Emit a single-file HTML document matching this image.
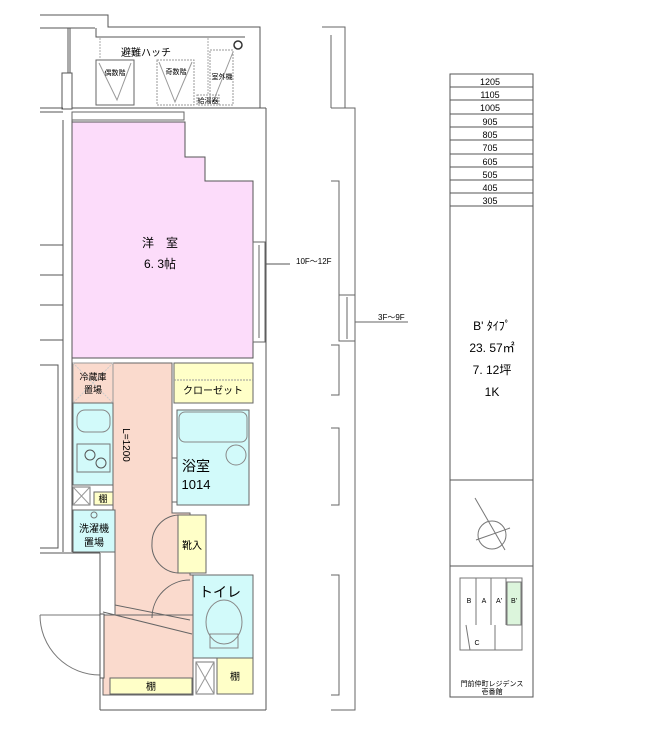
<!DOCTYPE html>
<html><head><meta charset="utf-8"><style>
html,body{margin:0;padding:0;background:#fff}
svg{display:block}
text{font-family:"Liberation Sans","Noto Sans CJK JP",sans-serif;fill:#000}
</style></head><body>
<svg width="650" height="737" viewBox="0 0 650 737" xmlns="http://www.w3.org/2000/svg">
<g stroke="#555" stroke-width="1" fill="none">
<polyline points="40,15 108,15 108,27 260,27 260,108"/>
<line x1="40" y1="28" x2="95" y2="28"/>
<line x1="68" y1="28" x2="68" y2="73"/>
<line x1="70" y1="28" x2="70" y2="73"/>
<polyline points="96,28 96,37 245,37"/>
<line x1="40" y1="108" x2="63" y2="108"/>
<line x1="40" y1="112" x2="63" y2="112"/>
<rect x="62" y="73" width="10" height="36"/>
<line x1="63" y1="120" x2="63" y2="552"/>
<line x1="72" y1="120" x2="72" y2="552"/>
<line x1="40" y1="245" x2="63" y2="245"/>
<line x1="40" y1="275" x2="63" y2="275"/>
<line x1="40" y1="305" x2="63" y2="305"/>
<line x1="40" y1="340" x2="63" y2="340"/>
<polyline points="40,365 58,365 58,548 40,548"/>
<line x1="40" y1="553" x2="100" y2="553"/>
<line x1="100" y1="553" x2="100" y2="615"/>
<line x1="72" y1="108" x2="185" y2="108"/>
<line x1="185" y1="108" x2="266" y2="108"/>
<rect x="96" y="60" width="38" height="45" stroke="#666"/>
<polyline points="99,63 117,100 131,63" stroke="#999"/>
<rect x="157" y="60" width="37" height="45" stroke="#999" stroke-dasharray="2,1"/>
<polyline points="159,62 175,102 192,62" stroke="#999"/>
<rect x="210" y="50" width="23" height="55" stroke="#999" stroke-dasharray="2,1"/>
<line x1="233" y1="52" x2="213" y2="102" stroke="#999"/>
<rect x="197" y="95" width="22" height="10" stroke="#999" stroke-dasharray="2,1"/>
<circle cx="238" cy="45" r="4" stroke="#333" stroke-width="1.5"/>
<line x1="100" y1="38" x2="100" y2="60" stroke="#aaa" stroke-dasharray="2,1"/>
<line x1="208" y1="38" x2="208" y2="95" stroke="#aaa" stroke-dasharray="2,1"/>
<line x1="266" y1="108" x2="266" y2="710"/>
<line x1="100" y1="710" x2="266" y2="710"/>
<line x1="100" y1="615" x2="100" y2="710"/>
</g>
<rect x="72" y="112" width="112" height="8" fill="#fff" stroke="#666"/>
<polygon points="72,122 185,122 185,157 205,157 205,181 253,181 253,358 72,358" fill="#fcdcfa" stroke="#555"/>
<rect x="253" y="242" width="12" height="100" fill="#fff" stroke="#666"/>
<line x1="259" y1="245" x2="259" y2="338" stroke="#666"/>
<line x1="266" y1="264" x2="290" y2="264" stroke="#555"/>
<text x="160" y="247" font-size="12" text-anchor="middle">洋　室</text>
<text x="160" y="268" font-size="12" text-anchor="middle">6. 3帖</text>
<polygon points="113,363 172,363 172,513 190,513 190,575 193,575 193,678 192,678 110,678 103,678 103,615 115,615 115,552 113,552" fill="#fadacd" stroke="#666"/>
<rect x="103" y="615" width="90" height="80" fill="#fadacd" stroke="#666"/>
<line x1="115" y1="605" x2="190" y2="620" stroke="#666"/>
<line x1="103" y1="612" x2="192" y2="634" stroke="#666"/>
<path d="M190,580 A38,38 0 0 0 152,618" fill="none" stroke="#666"/>
<path d="M178,515 A28,28 0 0 0 152,543 A28,28 0 0 0 178,573" fill="none" stroke="#666"/>
<line x1="40" y1="615" x2="100" y2="615" stroke="#777"/>
<path d="M40,615 A60,60 0 0 0 100,675" fill="none" stroke="#777"/>
<rect x="100" y="614" width="4" height="64" fill="#fff" stroke="#555"/>
<rect x="174" y="363" width="79" height="40" fill="#ffffc8" stroke="#666"/>
<line x1="174" y1="380" x2="253" y2="380" stroke="#999" stroke-dasharray="2,1"/>
<text x="213" y="394" font-size="10" text-anchor="middle">クローゼット</text>
<rect x="177" y="410" width="72" height="95" fill="#d2fafa" stroke="#666"/>
<rect x="179" y="412" width="68" height="30" rx="6" fill="none" stroke="#888"/>
<circle cx="236" cy="455" r="10" fill="none" stroke="#888"/>
<rect x="172" y="458" width="5" height="44" fill="#fff" stroke="#666"/>
<text x="196" y="471" font-size="14" text-anchor="middle">浴室</text>
<text x="196" y="489" font-size="13" text-anchor="middle">1014</text>
<rect x="178" y="515" width="28" height="58" fill="#ffffc8" stroke="#666"/>
<text x="192" y="549" font-size="10" text-anchor="middle">靴入</text>
<rect x="193" y="575" width="60" height="83" fill="#d2fafa" stroke="#666"/>
<ellipse cx="224" cy="622" rx="18" ry="22" fill="none" stroke="#888"/>
<rect x="210" y="634" width="28" height="14" fill="none" stroke="#888"/>
<text x="220" y="597" font-size="14" text-anchor="middle">トイレ</text>
<rect x="217" y="658" width="36" height="36" fill="#ffffc8" stroke="#666"/>
<text x="235" y="680" font-size="10" text-anchor="middle">棚</text>
<rect x="196" y="662" width="18" height="32" fill="#fff" stroke="#777"/>
<path d="M196,662 L214,694 M214,662 L196,694" stroke="#999"/>
<rect x="110" y="678" width="82" height="16" fill="#ffffc8" stroke="#666"/>
<text x="151" y="690" font-size="10" text-anchor="middle">棚</text>
<rect x="73" y="363" width="40" height="40" fill="#fadacd" stroke="#999"/>
<path d="M73,363 L113,403 M113,363 L73,403" stroke="#ccc" stroke-dasharray="2,1"/>
<text x="93" y="380" font-size="9" text-anchor="middle">冷蔵庫</text>
<text x="93" y="393" font-size="9" text-anchor="middle">置場</text>
<rect x="73" y="403" width="40" height="82" fill="#d2fafa" stroke="#666"/>
<rect x="77" y="410" width="33" height="22" rx="8" fill="none" stroke="#888"/>
<rect x="77" y="444" width="33" height="28" fill="none" stroke="#777"/>
<circle cx="90" cy="455" r="5" fill="none" stroke="#555"/>
<circle cx="101" cy="463" r="5" fill="none" stroke="#555"/>
<rect x="73" y="487" width="17" height="18" fill="#fff" stroke="#777"/>
<path d="M73,487 L90,505 M90,487 L73,505" stroke="#999"/>
<rect x="94" y="492" width="19" height="13" fill="#ffffc8" stroke="#666"/>
<text x="103" y="502" font-size="9" text-anchor="middle">棚</text>
<rect x="73" y="510" width="42" height="42" fill="#d2fafa" stroke="#666"/>
<circle cx="94" cy="515" r="3" fill="none" stroke="#777"/>
<text x="94" y="532" font-size="10" text-anchor="middle">洗濯機</text>
<text x="94" y="546" font-size="10" text-anchor="middle">置場</text>
<text x="123" y="445" font-size="10" text-anchor="middle" transform="rotate(90 123 445)">L=1200</text>
<text x="146" y="56" font-size="10" text-anchor="middle">避難ハッチ</text>
<text x="115" y="75" font-size="7" text-anchor="middle">偶数階</text>
<text x="176" y="74" font-size="7" text-anchor="middle">奇数階</text>
<text x="222" y="79" font-size="7" text-anchor="middle">室外機</text>
<text x="208" y="103" font-size="7" text-anchor="middle">給湯器</text>
<g stroke="#666" fill="none">
<polyline points="322,27 345,27 345,108"/>
<line x1="331" y1="35" x2="331" y2="108"/>
<polyline points="331,108 355,108 355,710 331,710"/>
<polyline points="331,181 339,181 339,297"/>
<polyline points="331,345 339,345 339,395 331,395"/>
<polyline points="331,428 339,428 339,505 331,505"/>
<polyline points="331,575 339,575 339,695 331,695"/>
<rect x="339" y="295" width="16" height="46" fill="#fff"/>
<line x1="347" y1="297" x2="347" y2="339"/>
<line x1="355" y1="322" x2="408" y2="322"/>
</g>
<text x="296" y="264" font-size="8">10F～12F</text>
<text x="378" y="320" font-size="8">3F～9F</text>
<g stroke="#555" fill="none">
<rect x="450" y="74" width="83" height="623"/>
<line x1="450" y1="480" x2="533" y2="480"/>
<line x1="450" y1="566" x2="533" y2="566"/>
</g>
<g font-size="9" text-anchor="middle">
<g stroke="#555">
<line x1="450" y1="87" x2="533" y2="87"/><line x1="450" y1="100" x2="533" y2="100"/>
<line x1="450" y1="114" x2="533" y2="114"/><line x1="450" y1="127" x2="533" y2="127"/>
<line x1="450" y1="140" x2="533" y2="140"/><line x1="450" y1="154" x2="533" y2="154"/>
<line x1="450" y1="167" x2="533" y2="167"/><line x1="450" y1="180" x2="533" y2="180"/>
<line x1="450" y1="193" x2="533" y2="193"/><line x1="450" y1="206" x2="533" y2="206"/>
</g>
<text x="490" y="85">1205</text><text x="490" y="98">1105</text><text x="490" y="111">1005</text>
<text x="490" y="125">905</text><text x="490" y="138">805</text><text x="490" y="151">705</text>
<text x="490" y="165">605</text><text x="490" y="178">505</text><text x="490" y="191">405</text>
<text x="490" y="204">305</text>
</g>
<g font-size="12" text-anchor="middle">
<text x="492" y="330">B' ﾀｲﾌﾟ</text>
<text x="492" y="352">23. 57㎡</text>
<text x="492" y="374">7. 12坪</text>
<text x="492" y="396">1K</text>
</g>
<g stroke="#777" fill="none">
<circle cx="492" cy="535" r="14"/>
<line x1="475" y1="498" x2="505" y2="550"/>
<line x1="476" y1="540" x2="510" y2="528"/>
</g>
<g stroke="#777" fill="none">
<rect x="460" y="578" width="62" height="72"/>
<line x1="476" y1="578" x2="476" y2="625"/>
<line x1="491" y1="578" x2="491" y2="625"/>
<line x1="506" y1="578" x2="506" y2="625"/>
<polyline points="466,625 470,650 495,650 495,625"/>
</g>
<rect x="507" y="582" width="14" height="43" fill="#dcf5dc" stroke="#777"/>
<g font-size="7" text-anchor="middle">
<text x="469" y="603">B</text><text x="484" y="603">A</text><text x="499" y="603">A'</text><text x="514" y="603">B'</text>
<text x="477" y="645">C</text>
<text x="492" y="686">門前仲町レジデンス</text>
<text x="492" y="694">壱番館</text>
</g>
</svg>
</body></html>
